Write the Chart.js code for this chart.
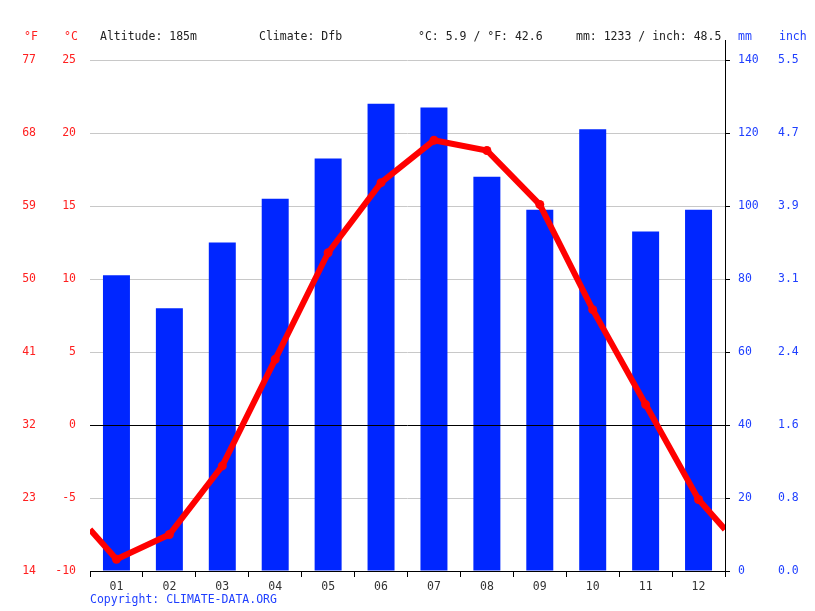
<!DOCTYPE html>
<html>
<head>
<meta charset="utf-8">
<script src="https://cdn.jsdelivr.net/npm/chart.js@4/dist/chart.umd.min.js"></script>
<style>
  html, body { margin: 0; padding: 0; background: #fff; }
  #wrap { position: relative; width: 815px; height: 611px; }
  canvas { position: absolute; left: 0; top: 0; }
  .t { position: absolute; font-family: "DejaVu Sans Mono", monospace; font-size: 11.5px; line-height: 14px; white-space: nowrap; }
  .k { color: #222; }
  .r { color: #ff2020; }
  .b { color: #1f3fff; }
</style>
</head>
<body>
<div id="wrap">
  <canvas id="c" width="815" height="611"></canvas>
  <div class="t r" style="left:24px;top:29px">°F</div>
  <div class="t r" style="left:64px;top:29px">°C</div>
  <div class="t k" style="left:100px;top:29px">Altitude: 185m</div>
  <div class="t k" style="left:259px;top:29px">Climate: Dfb</div>
  <div class="t k" style="left:418px;top:29px">°C: 5.9 / °F: 42.6</div>
  <div class="t k" style="left:576px;top:29px">mm: 1233 / inch: 48.5</div>
  <div class="t b" style="left:738px;top:29px">mm</div>
  <div class="t b" style="left:779px;top:29px">inch</div>
  <div class="t b" style="left:90px;top:592px">Copyright: CLIMATE-DATA.ORG</div>
</div>
<script>
const months = ['01','02','03','04','05','06','07','08','09','10','11','12'];
const precipMM = [81, 72, 90, 102, 113, 128, 127, 108, 99, 121, 93, 99];
const tempC = [-9.2, -7.5, -2.8, 4.5, 11.8, 16.6, 19.5, 18.8, 15.1, 7.9, 1.4, -5.1];
const fLabels = ['14','23','32','41','50','59','68','77'];
const inchLabels = ['0.0','0.8','1.6','2.4','3.1','3.9','4.7','5.5'];

// line continues to the plot edges, meeting the Dec/Jan midpoint (wrap-around)
const edgeT = (tempC[11] + tempC[0]) / 2;
const linePts = [{x: 0.5, y: edgeT}]
  .concat(tempC.map((v, i) => ({x: i + 1, y: v})))
  .concat([{x: 12.5, y: edgeT}]);
const radii = linePts.map((p, i) => (i === 0 || i === linePts.length - 1) ? 0 : 4.5);

const FONT = {family: '"DejaVu Sans Mono", monospace', size: 11.5};

const extras = {
  id: 'extras',
  afterDatasetDraw(chart, args) {
    if (args.meta.type !== 'bar') return;
    const ctx = chart.ctx, a = chart.chartArea;
    const y0 = Math.round(chart.scales.yC.getPixelForValue(0)) + 0.5;
    ctx.save();
    ctx.strokeStyle = '#000';
    ctx.lineWidth = 1;
    ctx.beginPath();
    ctx.moveTo(a.left, y0);
    ctx.lineTo(a.right, y0);
    ctx.stroke();
    ctx.restore();
  },
  afterDraw(chart) {
    const ctx = chart.ctx, a = chart.chartArea;
    const x = Math.round(a.right) + 0.5;
    ctx.save();
    ctx.strokeStyle = '#000';
    ctx.lineWidth = 1;
    ctx.beginPath();
    ctx.moveTo(x, 40);
    ctx.lineTo(x, a.top);
    ctx.stroke();
    ctx.restore();
  }
};

new Chart(document.getElementById('c'), {
  data: {
    labels: months,
    datasets: [
      {
        type: 'line',
        label: 'Temperature',
        data: linePts,
        xAxisID: 'x2',
        yAxisID: 'yC',
        borderColor: '#ff0000',
        backgroundColor: '#ff0000',
        borderWidth: 6,
        pointRadius: radii,
        pointHoverRadius: radii,
        pointBorderWidth: 0,
        pointBackgroundColor: '#ff0000',
        tension: 0,
        order: 0
      },
      {
        type: 'bar',
        label: 'Precipitation',
        data: precipMM,
        xAxisID: 'x',
        yAxisID: 'yMM',
        backgroundColor: '#0026ff',
        borderWidth: 0,
        grouped: false,
        barPercentage: 0.51,
        categoryPercentage: 1,
        order: 1
      }
    ]
  },
  options: {
    responsive: false,
    animation: false,
    devicePixelRatio: 1,
    layout: { padding: { top: 60, left: 0, right: 0, bottom: 0 } },
    plugins: { legend: { display: false }, tooltip: { enabled: false } },
    scales: {
      x: {
        type: 'category',
        position: 'bottom',
        offset: true,
        grid: { display: true, drawOnChartArea: false, drawTicks: true, tickLength: 6, color: '#000', offset: true },
        border: { display: true, color: '#000', width: 1 },
        ticks: { color: '#333', font: FONT, padding: 3, maxRotation: 0 },
        afterFit(s) { s.height = 40; }
      },
      x2: {
        type: 'linear',
        position: 'bottom',
        display: false,
        min: 0.5,
        max: 12.5
      },
      yC: {
        type: 'linear',
        position: 'left',
        min: -10, max: 25,
        grid: { display: true, drawTicks: false, color: (c) => (c.tick && (c.tick.value === 0 || c.tick.value === -10)) ? 'rgba(0,0,0,0)' : '#c8c8c8' },
        border: { display: false },
        ticks: { stepSize: 5, color: '#ff2020', font: FONT, padding: 14 },
        afterFit(s) { s.width = 40; }
      },
      yF: {
        type: 'linear',
        position: 'left',
        min: -10, max: 25,
        grid: { display: false, drawTicks: false },
        border: { display: false },
        ticks: { stepSize: 5, color: '#ff2020', font: FONT, padding: 14,
                 callback: (v, i) => fLabels[i] },
        afterFit(s) { s.width = 50; }
      },
      yMM: {
        type: 'linear',
        position: 'right',
        min: 0, max: 140,
        grid: { display: true, drawOnChartArea: false, drawTicks: true, tickLength: 5, color: '#000' },
        border: { display: true, color: '#000', width: 1 },
        ticks: { stepSize: 20, color: '#1f3fff', font: FONT, padding: 8 },
        afterFit(s) { s.width = 45; }
      },
      yIn: {
        type: 'linear',
        position: 'right',
        min: 0, max: 140,
        grid: { display: false, drawTicks: false },
        border: { display: false },
        ticks: { stepSize: 20, color: '#1f3fff', font: FONT, padding: 8,
                 callback: (v, i) => inchLabels[i] },
        afterFit(s) { s.width = 45; }
      }
    }
  },
  plugins: [extras]
});
</script>
</body>
</html>
